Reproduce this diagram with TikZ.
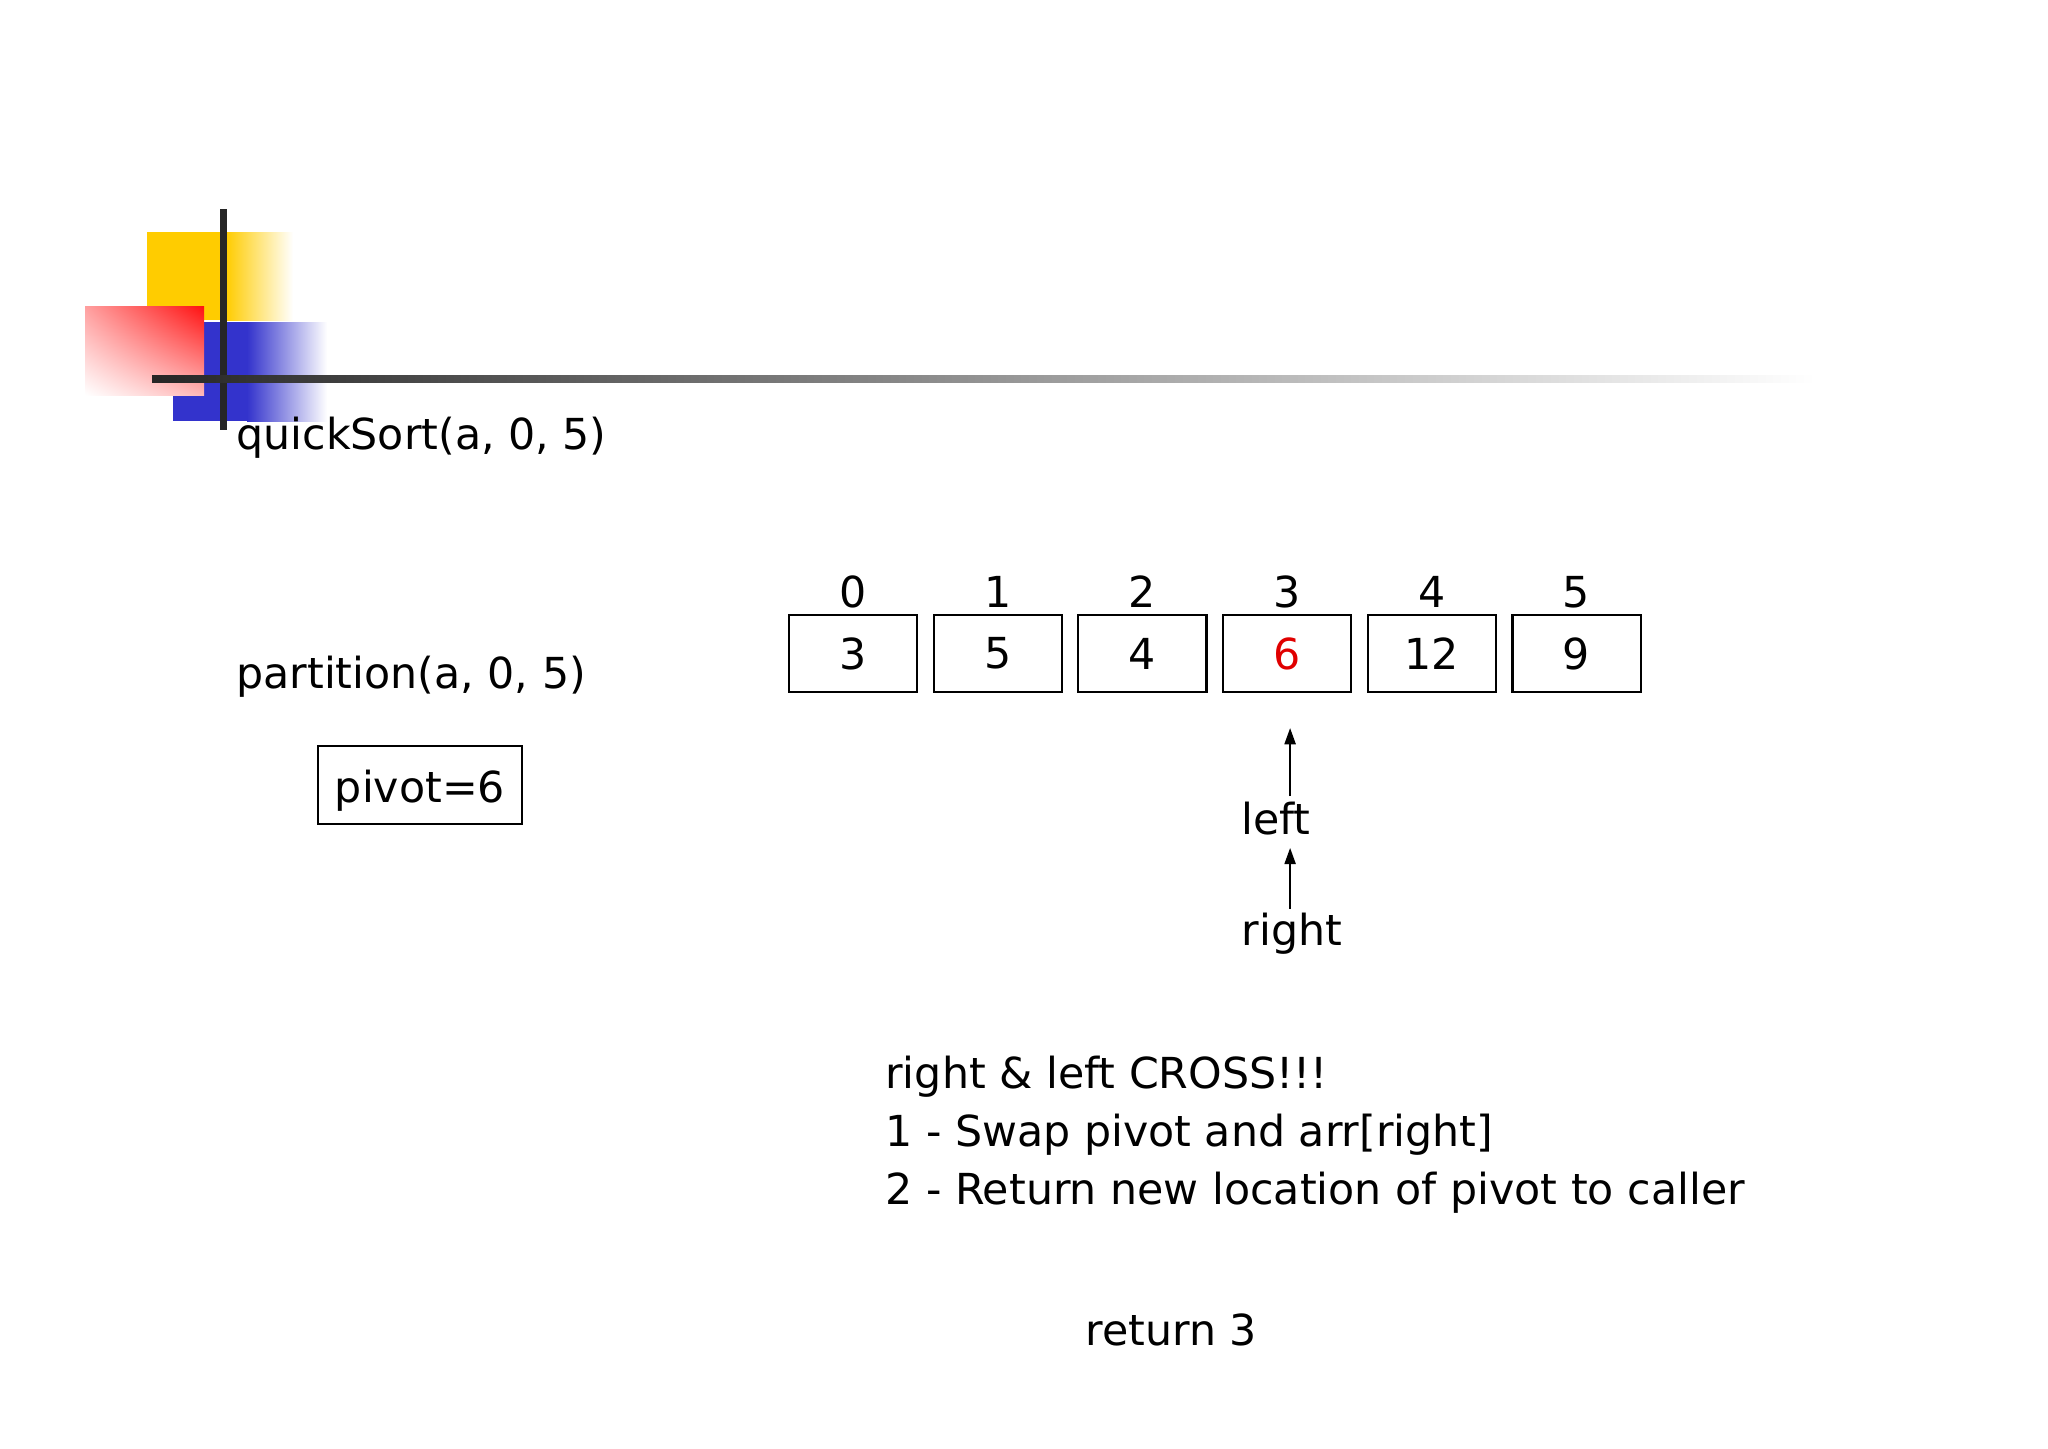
\documentclass[tikz,border=0pt]{standalone}
\usepackage{fontspec}
\setmainfont{DejaVu Sans}
\usetikzlibrary{arrows.meta,shadings}
\definecolor{logoyellow}{HTML}{FFCC00}
\definecolor{logoblue}{HTML}{3333CC}
\definecolor{logored}{HTML}{FF1010}
\definecolor{valred}{HTML}{E00000}
\begin{document}
\begin{tikzpicture}[x=0.01cm, y=-0.01cm,
    every node/.style={font=\fontsize{12.15}{16.5}\selectfont},
    cell/.style={draw, line width=0.6pt, rectangle, minimum width=1.28cm, minimum height=0.77cm, inner sep=0pt},
    ptr/.style={-{Triangle[length=4.6pt, width=3.2pt]}, line width=0.45pt}]
	\useasboundingbox (0,0) rectangle (2048,1448);

	% Slide logo
	\fill[logoyellow] (147,232) rectangle (226,320);
	\shade[left color=logoyellow, right color=white] (226,232) rectangle (293,320);
	\fill[logoblue] (173,322) rectangle (247,421);
	\shade[left color=logoblue, right color=white] (247,322) rectangle (327,421);
	\shade[upper right=logored, upper left=logored!40!white, lower right=logored!30!white, lower left=white] (85,306) rectangle (204,395);
	\fill[black!85] (219.5,209) rectangle (226.5,430);
	\shade[left color=black!85, right color=white] (152,375.5) rectangle (1815,382.5);

	% Calls
	\node[anchor=west] (qs) at (224,438) {quickSort(a, 0, 5)};
	\node[anchor=west] (part) at (224,677) {partition(a, 0, 5)};

	% Pivot
	\node[draw, line width=0.6pt, rectangle, minimum width=2.03cm, minimum height=0.78cm, text height=0.35cm, text depth=0pt] (pivot) at (420,785) {pivot=6};

	% Array cells and indices
	\foreach \i/\v in {0/3, 1/5, 2/4, 3/{\textcolor{valred}{6}}, 4/12, 5/9} {
		\node[cell] (c\i) at (853+144.7*\i,653.5) {\v};
		\node (i\i) at (853+144.7*\i,592) {\i};
	}

	% left and right
	\node (lft) at (1276,819) {left};
	\node (rgt) at (1292,934) {right};
	\draw[ptr, shorten >=0.35cm] (lft.north -| c3) ++(3,6) coordinate (lftp) -- (lftp |- c3.south);
	\draw[ptr] (rgt.north -| lftp) ++(0,8) coordinate (rgtp) -- (rgtp |- lft.south);

	% Result
	\node[anchor=west, align=left] (msg) at (873,1135) {right \& left CROSS!!!\\1 - Swap pivot and arr[right]\\2 - Return new location of pivot to caller};
	\node[anchor=west] (ret) at (1073,1330) {return 3};
\end{tikzpicture}
\end{document}
